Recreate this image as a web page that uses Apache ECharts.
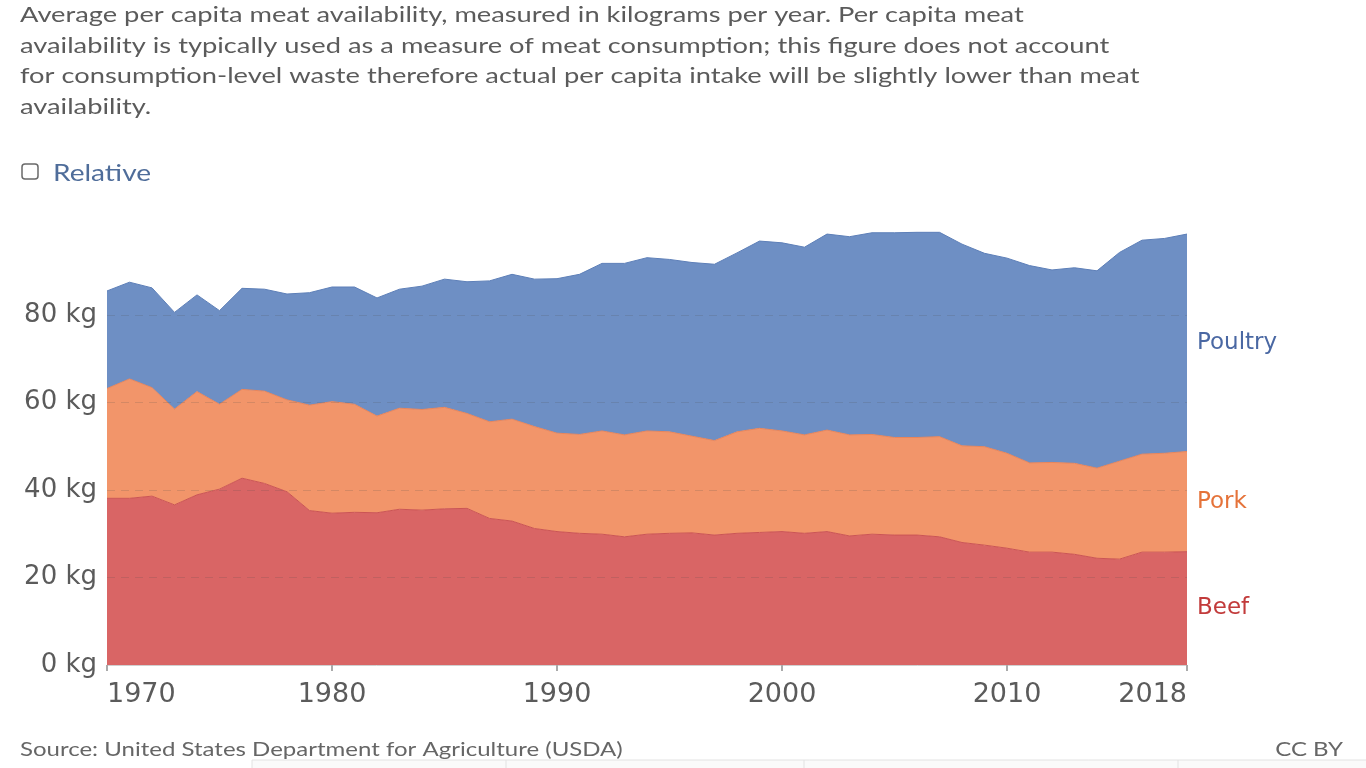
<!DOCTYPE html>
<html>
<head>
<meta charset="utf-8">
<script src="https://cdn.jsdelivr.net/npm/echarts@6/dist/echarts.min.js"></script>
<style>
html,body{margin:0;padding:0;background:#fff;}
#chart{width:1366px;height:768px;}
</style>
</head>
<body>
<div id="chart"></div>
<script>
const years = ['1970','1971','1972','1973','1974','1975','1976','1977','1978','1979',
  '1980','1981','1982','1983','1984','1985','1986','1987','1988','1989',
  '1990','1991','1992','1993','1994','1995','1996','1997','1998','1999',
  '2000','2001','2002','2003','2004','2005','2006','2007','2008','2009',
  '2010','2011','2012','2013','2014','2015','2016','2017','2018'];

const beef = [38.1,38.1,38.6,36.6,38.9,40.2,42.7,41.5,39.6,35.3,
  34.7,34.9,34.8,35.6,35.4,35.7,35.8,33.5,32.9,31.2,
  30.5,30.1,29.9,29.3,29.9,30.1,30.2,29.7,30.1,30.3,
  30.5,30.1,30.5,29.5,29.9,29.7,29.7,29.3,28.0,27.4,
  26.7,25.8,25.8,25.3,24.4,24.2,25.8,25.8,25.9];

const pork = [25.1,27.3,24.8,21.9,23.6,19.4,20.3,21.1,21.0,24.1,
  25.5,24.7,22.1,23.1,23.0,23.2,21.7,22.1,23.3,23.3,
  22.5,22.6,23.6,23.3,23.6,23.2,22.1,21.6,23.2,23.8,
  23.0,22.5,23.2,23.1,22.8,22.3,22.3,22.9,22.1,22.5,
  21.7,20.4,20.5,20.8,20.6,22.4,22.4,22.6,22.9];

const poultry = [22.3,22.1,22.8,22.1,22.1,21.4,23.1,23.3,24.2,25.7,
  26.2,26.8,27.0,27.2,28.2,29.3,30.1,32.2,33.1,33.7,
  35.3,36.6,38.3,39.2,39.6,39.4,39.7,40.3,40.9,42.8,
  43.0,42.9,44.8,45.3,46.1,46.8,46.9,46.7,46.1,44.2,
  44.6,45.1,44.0,44.7,45.1,47.7,48.9,49.1,49.7];

const yTicks = [0, 20, 40, 60, 80];
const seriesNames = ['Beef', 'Pork', 'Poultry'];

const subtitleLines = [
  'Average per capita meat availability, measured in kilograms per year. Per capita meat',
  'availability is typically used as a measure of meat consumption; this figure does not account',
  'for consumption-level waste therefore actual per capita intake will be slightly lower than meat',
  'availability.'
];

const FONT = 'Lato, "Noto Sans", sans-serif';
const WIDE = '"DejaVu Sans", Lato, sans-serif';
const areaColors = ['#d96565', '#f2956a', '#6e8fc4'];
const lineColors = ['#cb5454', '#e9855a', '#5d7fb8'];
const labelColors = ['#c23b3b', '#e5733a', '#4a68a3'];

const last = years.length - 1;
const lists = [beef, pork, poultry];

function showTick(idx, val) {
  const y = parseInt(val, 10);
  return y % 10 === 0 || idx === last;
}

const series = lists.map((arr, k) => {
  let below = 0;
  for (let j = 0; j < k; j++) below += lists[j][last];
  return {
    name: seriesNames[k],
    type: 'line',
    stack: 'meat',
    data: arr,
    symbol: 'none',
    smooth: false,
    lineStyle: { width: 1, color: lineColors[k] },
    areaStyle: { color: areaColors[k], opacity: 1 },
    itemStyle: { color: areaColors[k] },
    emphasis: { disabled: true },
    z: 2,
    markPoint: {
      symbol: 'circle',
      symbolSize: 0,
      silent: true,
      animation: false,
      data: [{
        coord: [last, below + arr[last] / 2],
        label: {
          show: true,
          position: 'right',
          distance: 10,
          formatter: seriesNames[k],
          color: labelColors[k],
          fontSize: 23,
          fontFamily: WIDE
        }
      }]
    }
  };
});

const SX = 1.24;
const graphics = subtitleLines.map((t, i) => ({
  type: 'text', x: 20, y: 15 + i * 30.5, scaleX: SX,
  style: { text: t, fontFamily: FONT, fontSize: 22, fill: '#5b5b5b', verticalAlign: 'middle' }
}));
graphics.push(
  { type: 'rect', shape: { x: 22, y: 164, width: 16, height: 15, r: 3 },
    style: { fill: '#ffffff', stroke: '#6a6a6a', lineWidth: 1.5 } },
  { type: 'text', x: 53, y: 174, scaleX: 1.22,
    style: { text: 'Relative', fontFamily: FONT, fontSize: 23, fill: '#4f6d9a', verticalAlign: 'middle' } },
  { type: 'text', x: 20, y: 750, scaleX: 1.2,
    style: { text: 'Source: United States Department for Agriculture (USDA)', fontFamily: FONT, fontSize: 20, fill: '#666666', verticalAlign: 'middle' } },
  { type: 'text', x: 1343, y: 750, scaleX: 1.2,
    style: { text: 'CC BY', fontFamily: FONT, fontSize: 20, fill: '#666666', align: 'right', verticalAlign: 'middle' } },
  { type: 'rect', shape: { x: 252, y: 760, width: 1120, height: 12 },
    style: { fill: '#fafafa', stroke: '#e2e2e2', lineWidth: 1 } },
  { type: 'line', shape: { x1: 506, y1: 760, x2: 506, y2: 768 }, style: { stroke: '#e2e2e2', lineWidth: 1 } },
  { type: 'line', shape: { x1: 804, y1: 760, x2: 804, y2: 768 }, style: { stroke: '#e2e2e2', lineWidth: 1 } },
  { type: 'line', shape: { x1: 1178, y1: 760, x2: 1178, y2: 768 }, style: { stroke: '#e2e2e2', lineWidth: 1 } }
);

const chart = echarts.init(document.getElementById('chart'), null, { renderer: 'canvas' });
chart.setOption({
  animation: false,
  backgroundColor: '#ffffff',
  grid: { left: 107, right: 179, top: 227.5, bottom: 103, containLabel: false },
  xAxis: {
    type: 'category',
    data: years,
    boundaryGap: false,
    axisLine: { show: true, lineStyle: { color: '#d0d0d0', width: 1 } },
    axisTick: { show: true, interval: showTick, length: 6, lineStyle: { color: '#aaaaaa', width: 2 } },
    axisLabel: {
      interval: showTick,
      fontFamily: WIDE,
      fontSize: 27,
      color: '#5b5b5b',
      margin: 16,
      alignMinLabel: 'left',
      alignMaxLabel: 'right'
    },
    splitLine: { show: false }
  },
  yAxis: {
    type: 'value',
    min: 0,
    max: 100,
    interval: 20,
    z: 5,
    axisLine: { show: false },
    axisTick: { show: false },
    axisLabel: {
      fontFamily: WIDE,
      fontSize: 26,
      color: '#5b5b5b',
      margin: 10,
      formatter: function (v) { return yTicks.indexOf(v) >= 0 ? v + ' kg' : ''; }
    },
    splitLine: {
      show: true,
      showMinLine: false,
      showMaxLine: false,
      lineStyle: { color: 'rgba(80,80,80,0.18)', type: [8, 6], width: 1 }
    }
  },
  series: series,
  graphic: graphics
});
</script>
</body>
</html>
